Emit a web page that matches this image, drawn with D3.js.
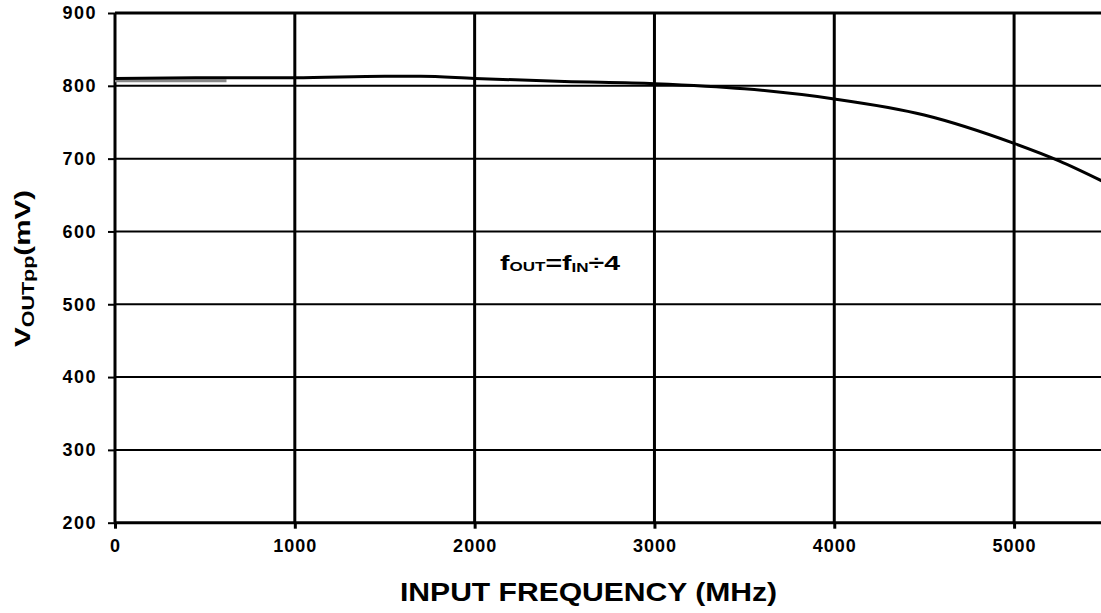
<!DOCTYPE html>
<html><head><meta charset="utf-8">
<script src="https://cdn.jsdelivr.net/npm/d3@7"></script>
<style>
body{margin:0;background:#fff;}
text{font-family:"Liberation Sans",Arial,sans-serif;font-weight:bold;fill:#000;}
</style></head>
<body><svg id="c" width="1101" height="613"></svg>
<script>
const xTicks = [0,1000,2000,3000,4000,5000];
const yTicks = [200,300,400,500,600,700,800,900];
const freqMain = [0,500,1000,1500,1700,2000,2500,3000,3500,4000,4500,5000,5250,5500];
const voutMain = [810,811,811,813,813,810,806,803,796,782,760,721,697,668];
const freqGray = [0,620];
const voutGray = [807,807];

const svg = d3.select("#c");
const x = d3.scaleLinear().domain([0,5500]).range([115,1104]);
const y = d3.scaleLinear().domain([200,900]).range([522.7,13]);

// grid
svg.append("g").selectAll("line").data(yTicks).join("line")
  .attr("x1",x(0)).attr("x2",1101).attr("y1",d=>y(d)).attr("y2",d=>y(d))
  .attr("stroke","#000").attr("stroke-width",d=>(d===900||d===200)?3:2);
svg.append("g").selectAll("line").data(xTicks).join("line")
  .attr("x1",d=>x(d)).attr("x2",d=>x(d)).attr("y1",y(900)).attr("y2",y(200))
  .attr("stroke","#000").attr("stroke-width",3);

// axes
const xAxis = d3.axisBottom(x).tickValues(xTicks).tickSize(6).tickPadding(11).tickFormat(d3.format("d"));
const gx = svg.append("g").attr("transform",`translate(0,${y(200)})`).call(xAxis);
gx.select(".domain").remove();
gx.selectAll("line").attr("stroke","#000").attr("stroke-width",3);
gx.selectAll("text").attr("font-size",18).style("letter-spacing","1px")
  .style("font-family","Liberation Sans, Arial, sans-serif").style("font-weight","bold");

const yAxis = d3.axisLeft(y).tickValues(yTicks).tickSize(7).tickPadding(11).tickFormat(d3.format("d"));
const gy = svg.append("g").attr("transform",`translate(${x(0)},0)`).call(yAxis);
gy.select(".domain").remove();
gy.selectAll("line").attr("stroke","#000").attr("stroke-width",2);
gy.selectAll("text").attr("font-size",18).style("letter-spacing","1.5px")
  .style("font-family","Liberation Sans, Arial, sans-serif").style("font-weight","bold");

// lines
const lg = d3.line().x((d,i)=>x(freqGray[i])).y((d,i)=>y(voutGray[i]));
svg.append("path").attr("d",lg(voutGray)).attr("fill","none").attr("stroke","#888").attr("stroke-width",3);
const lm = d3.line().x((d,i)=>x(freqMain[i])).y((d,i)=>y(voutMain[i])).curve(d3.curveMonotoneX);
svg.append("path").attr("d",lm(voutMain)).attr("fill","none").attr("stroke","#000").attr("stroke-width",3);

// annotation
const ann = svg.append("text").attr("x",500).attr("y",270).attr("font-size",20)
  .attr("textLength",120).attr("lengthAdjust","spacingAndGlyphs");
ann.append("tspan").text("f");
ann.append("tspan").attr("font-size",12).attr("dy",1).text("OUT");
ann.append("tspan").attr("dy",-1).text("=f");
ann.append("tspan").attr("font-size",12).attr("dy",2).text("IN");
ann.append("tspan").attr("dy",-2).text("÷4");

// axis titles
svg.append("text").attr("x",400).attr("y",601).attr("font-size",25)
  .attr("textLength",377).attr("lengthAdjust","spacingAndGlyphs").text("INPUT FREQUENCY (MHz)");
const yt = svg.append("text").attr("transform","translate(30,347) rotate(-90)").attr("font-size",22)
  .attr("textLength",157).attr("lengthAdjust","spacingAndGlyphs");
yt.append("tspan").text("V");
yt.append("tspan").attr("font-size",16).attr("dy",4).text("OUTpp");
yt.append("tspan").attr("dy",-4).text("(mV)");
</script></body></html>
